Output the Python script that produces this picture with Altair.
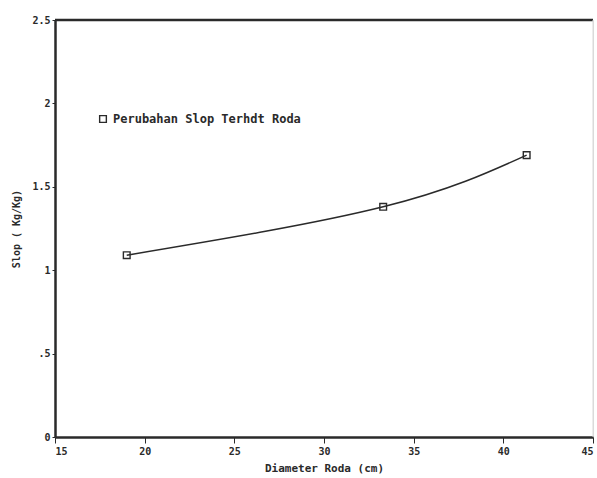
import altair as alt
import pandas as pd

diameter = [19.0, 33.3, 41.3]
slop = [1.09, 1.38, 1.69]
series = ["Perubahan Slop Terhdt Roda"] * 3

x_ticks = [15, 20, 25, 30, 35, 40, 45]
y_ticks = [0, 0.5, 1, 1.5, 2, 2.5]

df = pd.DataFrame({"d": diameter, "s": slop, "series": series})
frame_top = pd.DataFrame({"x": [15], "x2": [45], "y": [2.5]})
frame_right = pd.DataFrame({"x": [45], "y": [0], "y2": [2.5]})

FONT = "DejaVu Sans Mono"
INK = "#2a2a2a"

xs = alt.Scale(domain=[15, 45], nice=False, zero=False)
ys = alt.Scale(domain=[0, 2.5], nice=False)

xax = alt.Axis(values=x_ticks, title="Diameter Roda (cm)", grid=False,
               domainColor=INK, domainWidth=2.5, tickColor=INK, tickSize=6,
               labelFont=FONT, labelFontWeight="bold", labelFontSize=10, labelColor=INK,
               titleFont=FONT, titleFontWeight="bold", titleFontSize=11, titleColor=INK,
               labelPadding=3, titlePadding=6)
yax = alt.Axis(values=y_ticks, title="Slop ( Kg/Kg)", grid=False,
               domainColor=INK, domainWidth=2.5, tickColor=INK, tickSize=3,
               labelExpr="datum.value == 0.5 ? '.5' : format(datum.value, '~g')",
               labelFont=FONT, labelFontWeight="bold", labelFontSize=10, labelColor=INK,
               titleFont=FONT, titleFontWeight="bold", titleFontSize=10, titleColor=INK,
               labelPadding=2, titlePadding=10)

line = alt.Chart(df).mark_line(interpolate="natural", color=INK, strokeWidth=1.5).encode(
    x=alt.X("d:Q", scale=xs, axis=xax),
    y=alt.Y("s:Q", scale=ys, axis=yax),
)
pts = alt.Chart(df).mark_point(shape="square", size=45, filled=False,
                               strokeWidth=1.4, opacity=1).encode(
    x=alt.X("d:Q", scale=xs),
    y=alt.Y("s:Q", scale=ys),
    color=alt.Color("series:N", scale=alt.Scale(range=[INK]),
                    legend=alt.Legend(title=None, orient="none", legendX=42, legendY=93,
                                      symbolType="square", symbolSize=45,
                                      symbolStrokeWidth=1.4, symbolOpacity=1,
                                      labelLimit=0,
                                      labelFont=FONT, labelFontWeight="bold",
                                      labelFontSize=12, labelColor=INK)),
)
top = alt.Chart(frame_top).mark_rule(color=INK, strokeWidth=2.5).encode(
    x="x:Q", x2="x2:Q", y="y:Q")
right = alt.Chart(frame_right).mark_rule(color="#d8d8d8", strokeWidth=1).encode(
    x="x:Q", y="y:Q", y2="y2:Q")

chart = alt.layer(top, right, line, pts).properties(
    width=538, height=417,
    padding={"left": 55, "top": 20, "right": 4, "bottom": 41},
    autosize=alt.AutoSizeParams(type="none"),
).configure_view(stroke=None).configure(background="white")

chart.save("out.html", embed_options={"renderer": "svg", "actions": False})
